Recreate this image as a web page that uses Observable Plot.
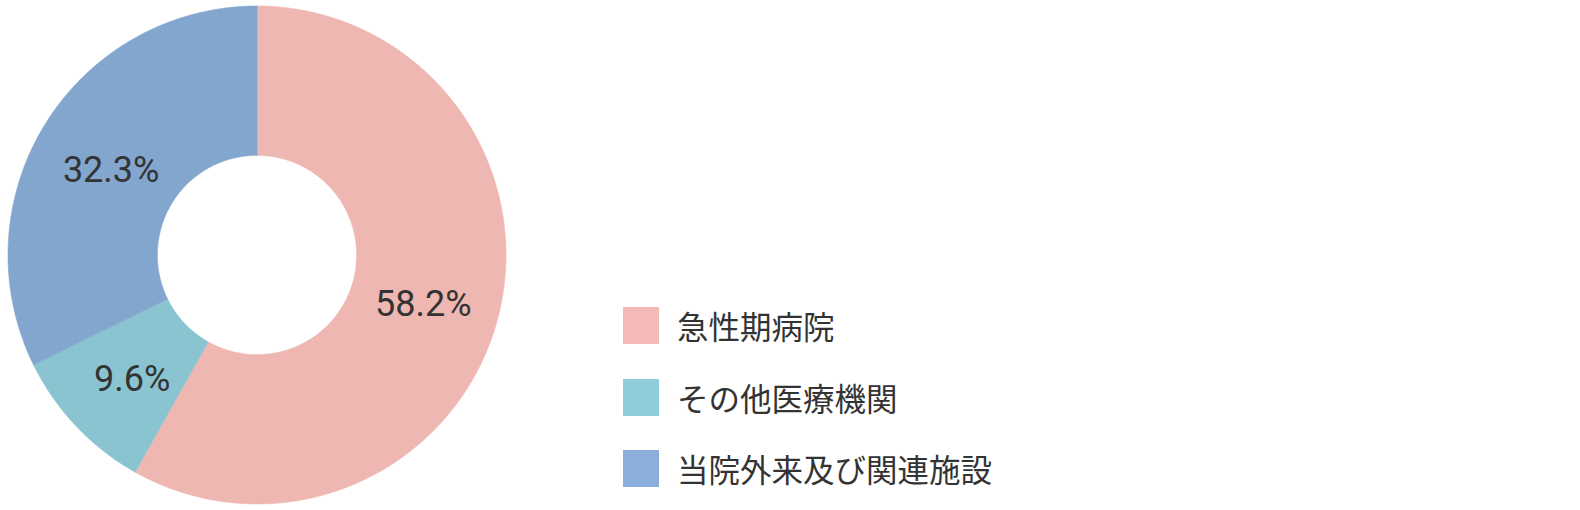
<!DOCTYPE html>
<html>
<head>
<meta charset="utf-8">
<script src="https://cdn.jsdelivr.net/npm/d3@7"></script>
<script src="https://cdn.jsdelivr.net/npm/@observablehq/plot@0.6"></script>
<style>
  html, body { margin: 0; padding: 0; background: #fff; }
  #wrap { position: relative; width: 1580px; height: 510px; }
  #chart { position: absolute; left: 0; top: 0; }
  #legend { position: absolute; left: 623px; top: 307px; font-family: "Noto Sans CJK JP", sans-serif; color: #333; }
  .row { display: flex; align-items: center; height: 37px; margin-bottom: 34.5px; }
  .sw { width: 36px; height: 37px; margin-right: 18px; }
  .lab { font-size: 31.5px; line-height: 37px; white-space: nowrap; }
</style>
</head>
<body>
<div id="wrap"><div id="chart"></div><div id="legend"></div></div>
<script>
const categories = ["急性期病院", "その他医療機関", "当院外来及び関連施設"];
const values = [58.2, 9.6, 32.3];
const labels = ["58.2%", "9.6%", "32.3%"];
const sliceColors = ["#EFB7B2", "#8AC4D1", "#83A6CF"];
const legendColors = ["#F3BAB7", "#8FCDDD", "#8CAEDA"];

const innerRatio = 0.4;
const labelRadius = 0.69;

const table = categories.map((c, i) => ({name: c, value: values[i], label: labels[i]}));
const arcs = d3.pie().sort(null).value(d => d.value)(table);

// polygon points for each slice (angle from top, clockwise)
const pts = [];
for (const a of arcs) {
  const n = Math.max(8, Math.ceil((a.endAngle - a.startAngle) / (Math.PI / 720)));
  const ring = [];
  for (let k = 0; k <= n; k++) {
    const t = a.startAngle + (a.endAngle - a.startAngle) * k / n;
    ring.push({name: a.data.name, x: Math.sin(t), y: Math.cos(t)});
  }
  for (let k = n; k >= 0; k--) {
    const t = a.startAngle + (a.endAngle - a.startAngle) * k / n;
    ring.push({name: a.data.name, x: innerRatio * Math.sin(t), y: innerRatio * Math.cos(t)});
  }
  ring.push(ring[0]);
  pts.push(...ring);
}
const labelPts = arcs.map(a => {
  const m = (a.startAngle + a.endAngle) / 2;
  return {label: a.data.label, x: labelRadius * Math.sin(m), y: labelRadius * Math.cos(m)};
});

const plot = Plot.plot({
  width: 513,
  height: 510,
  marginLeft: 7.5,
  marginRight: 7.5,
  marginTop: 5.5,
  marginBottom: 6.5,
  x: {domain: [-1, 1], axis: null},
  y: {domain: [-1, 1], axis: null},
  color: {domain: categories, range: sliceColors},
  style: {background: "transparent"},
  marks: [
    Plot.line(pts, {x: "x", y: "y", z: "name", fill: "name", stroke: "name", strokeWidth: 0.6, curve: "linear"}),
    Plot.text(labelPts, {x: "x", y: "y", text: "label", dy: 6, fill: "#333", fontSize: 36, fontFamily: "Roboto, sans-serif"})
  ]
});
document.getElementById("chart").appendChild(plot);

const legend = document.getElementById("legend");
categories.forEach((c, i) => {
  const row = document.createElement("div");
  row.className = "row";
  const sw = document.createElement("div");
  sw.className = "sw";
  sw.style.background = legendColors[i];
  const lab = document.createElement("div");
  lab.className = "lab";
  lab.textContent = c;
  row.appendChild(sw);
  row.appendChild(lab);
  legend.appendChild(row);
});
</script>
</body>
</html>
